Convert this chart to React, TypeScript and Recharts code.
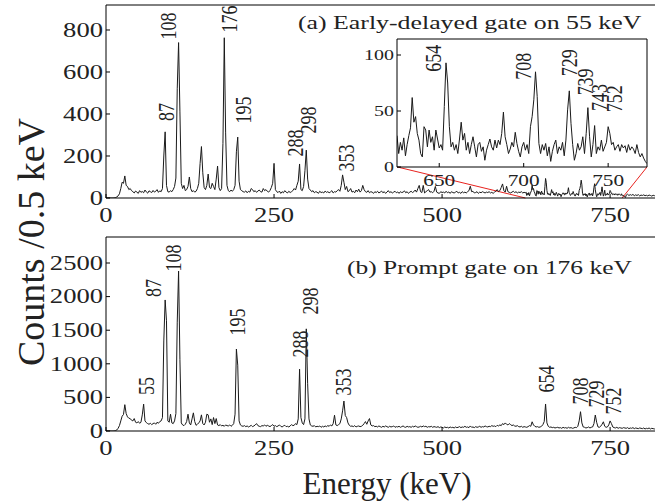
import React from 'react';
import { ComposedChart, Line, XAxis, YAxis, ReferenceLine, Scatter } from 'recharts';

const FONT = '"Liberation Serif", "Times New Roman", serif';
const INK = '#1a1a1a';
const SX = 1.33; // the figure's lettering is stretched sideways

// ---- tick labels ----
const xTicks = [0, 250, 500, 750];
const topYTicks = [0, 200, 400, 600, 800];
const bottomYTicks = [0, 500, 1000, 1500, 2000, 2500];
const insetXTicks = [650, 700, 750];
const insetYTicks = [0, 50, 100];

// ---- (a) early-delayed gate on 55 keV, counts per channel ----
// 0..624 keV in 2 keV steps
const topLow = [
  0, 0, 0, 0, 0, 0, 0, 2, 5, 10, 20, 45, 75, 70, 105, 60, 55, 40, 45, 35,
  30, 24, 33, 28, 22, 35, 27, 31, 25, 38, 29, 23, 34, 30, 26, 36, 28, 32, 40, 27,
  34, 30, 45, 200, 315, 60, 30, 28, 35, 30, 40, 55, 95, 520, 740, 410, 70, 45, 60, 35,
  40, 55, 100, 45, 30, 35, 28, 32, 45, 70, 165, 245, 120, 50, 40, 60, 114, 50, 45, 70,
  55, 40, 90, 152, 50, 35, 45, 260, 763, 310, 60, 35, 30, 38, 32, 40, 60, 220, 290, 80,
  40, 35, 30, 28, 34, 25, 32, 28, 45, 40, 30, 35, 27, 33, 38, 30, 28, 45, 35, 40,
  32, 28, 36, 50, 70, 165, 40, 30, 26, 33, 22, 30, 25, 35, 28, 24, 32, 26, 30, 35,
  45, 38, 60, 80, 162, 40, 35, 55, 130, 228, 90, 45, 38, 30, 35, 25, 30, 28, 22, 32,
  26, 28, 24, 33, 27, 30, 25, 29, 35, 24, 30, 28, 35, 40, 32, 60, 110, 75, 40, 55,
  30, 35, 45, 28, 32, 25, 38, 30, 42, 28, 35, 60, 40, 30, 27, 35, 25, 30, 28, 22,
  30, 26, 32, 24, 28, 33, 25, 30, 22, 28, 35, 26, 30, 24, 28, 32, 25, 29, 22, 30,
  26, 28, 34, 25, 30, 22, 28, 32, 26, 30, 38, 28, 45, 60, 30, 26, 60, 24, 30, 35,
  40, 28, 30, 25, 32, 55, 28, 24, 22, 30, 26, 28, 24, 32, 25, 29, 22, 30, 26, 24,
  28, 32, 24, 27, 22, 30, 25, 28, 24, 30, 35, 56, 30, 32, 24, 26, 30, 22, 28, 25,
  30, 27, 24, 28, 26, 30, 24, 27, 22, 28, 32, 40, 30, 35, 50, 67, 35, 28, 56, 30,
  27, 24, 28, 32, 26, 30, 24, 28, 26, 30, 24, 27, 25,
];
// 625..773 keV in 1 keV steps (the region blown up in the inset)
const topInset = [
  28, 12, 22, 15, 26, 10, 20, 28, 35, 62,
  40, 45, 30, 24, 12, 9, 36, 33, 18, 33,
  22, 27, 15, 33, 25, 17, 20, 15, 54, 93,
  75, 36, 18, 22, 15, 20, 12, 25, 40, 24,
  30, 15, 22, 12, 20, 27, 18, 9, 20, 22,
  14, 18, 6, 15, 20, 25, 18, 15, 24, 17,
  24, 20, 30, 49, 27, 20, 12, 16, 22, 18,
  31, 21, 14, 9, 18, 22, 15, 20, 12, 36,
  45, 60, 85, 63, 21, 12, 20, 15, 21, 10,
  18, 5, 14, 20, 24, 12, 18, 15, 22, 10,
  24, 51, 68, 39, 20, 6, 12, 21, 15, 18,
  27, 12, 30, 53, 27, 9, 20, 37, 12, 18,
  15, 24, 14, 18, 22, 36, 30, 20, 22, 15,
  18, 20, 14, 20, 17, 19, 13, 20, 15, 18,
  16, 12, 20, 13, 9, 12, 8, 5, 3,
];
// 774..854 keV in 2 keV steps
const topHigh = [
  14, 18, 12, 16, 13, 17, 11, 15, 12, 16, 10, 14, 12, 15, 11, 13, 10, 14, 12, 9,
  13, 11, 10, 12, 10, 11, 9, 12, 10, 11, 9, 10, 12, 9, 11, 10, 9, 11, 10, 9, 10,
];

// ---- (b) prompt gate on 176 keV, 0..854 keV in 2 keV steps ----
const bottomCounts = [
  0, 0, 0, 0, 0, 0, 0, 5, 15, 40, 80, 150, 220, 245, 392, 260, 210, 190, 185, 160,
  150, 185, 130, 120, 140, 115, 130, 240, 400, 150, 125, 110, 100, 115, 95, 110, 120, 100, 130, 115,
  140, 150, 200, 1340, 1950, 1640, 150, 130, 250, 120, 110, 150, 260, 1620, 2380, 1060, 120, 90, 80, 100,
  140, 250, 120, 90, 180, 270, 140, 85, 100, 120, 150, 240, 110, 90, 130, 250, 240, 130, 180, 95,
  200, 110, 185, 90, 80, 95, 75, 85, 70, 90, 80, 75, 90, 70, 85, 110, 250, 1220, 980, 150,
  90, 75, 70, 80, 65, 75, 60, 70, 85, 65, 75, 90, 110, 80, 70, 65, 80, 75, 90, 70,
  85, 75, 65, 80, 95, 70, 80, 65, 75, 90, 70, 60, 75, 85, 65, 70, 60, 75, 95, 80,
  85, 110, 95, 180, 920, 200, 120, 95, 180, 1520, 710, 180, 90, 75, 70, 80, 60, 70, 65, 75,
  55, 70, 60, 75, 65, 80, 70, 90, 75, 110, 235, 90, 80, 95, 110, 180, 300, 446, 230, 200,
  120, 85, 70, 75, 65, 80, 60, 70, 75, 65, 70, 85, 110, 140, 100, 150, 185, 90, 75, 80,
  65, 70, 60, 75, 65, 55, 70, 60, 75, 65, 55, 70, 60, 65, 75, 55, 65, 60, 70, 55,
  65, 75, 60, 55, 70, 60, 65, 55, 70, 60, 75, 65, 55, 60, 70, 60, 75, 65, 70, 55,
  65, 60, 70, 55, 65, 60, 55, 65, 50, 60, 55, 45, 60, 50, 55, 45, 60, 50, 55, 45,
  60, 50, 55, 65, 50, 60, 55, 70, 55, 60, 50, 75, 55, 60, 50, 65, 55, 60, 70, 55,
  65, 60, 75, 65, 60, 70, 65, 80, 70, 75, 65, 85, 75, 90, 80, 110, 95, 120, 100, 90,
  110, 95, 80, 90, 75, 70, 80, 65, 60, 70, 55, 65, 60, 55, 65, 80, 70, 137, 90, 70,
  60, 65, 55, 60, 70, 95, 140, 402, 120, 70, 55, 60, 50, 55, 45, 50, 55, 45, 50, 40,
  55, 45, 50, 40, 55, 45, 50, 40, 45, 55, 50, 70, 150, 287, 120, 60, 55, 45, 50, 60,
  45, 55, 60, 110, 238, 130, 60, 55, 70, 100, 137, 70, 55, 60, 90, 150, 110, 60, 50, 45,
  55, 40, 50, 45, 40, 50, 45, 40, 50, 35, 45, 40, 50, 35, 45, 40, 35, 45, 40, 35,
  45, 30, 40, 35, 45, 30, 40, 35, 30, 40, 35, 38, 32, 36, 30, 34, 38, 30, 35, 32,
  36, 30, 34, 32, 35, 30, 33, 31,
];

// ---- peak labels (text, energy, height where the label sits) ----
const topLabelNames = ['87', '108', '176', '195', '288', '298', '353'];
const topLabelE = [89, 92, 183, 204, 281, 301, 357];
const topLabelC = [410, 819, 852, 419, 262, 371, 190];

const insetLabelNames = ['654', '708', '729', '739', '743', '752'];
const insetLabelE = [646.5, 699.8, 726.8, 736.3, 744.8, 753.5];
const insetLabelC = [97, 90, 93, 76, 62, 61];

const bottomLabelNames = ['55', '87', '108', '195', '288', '298', '353', '654', '708', '729', '752'];
const bottomLabelE = [59.5, 70, 99.7, 195, 288.7, 303.6, 352.7, 654.8, 705.4, 729.2, 754.5];
const bottomLabelC = [670, 2128, 2574, 1622, 1295, 1935, 729, 774, 595, 551, 446];

const bins = (start: number, step: number, counts: number[]) =>
  counts.map((c, i) => ({ e: start + i * step, c }));

const topData = [...bins(0, 2, topLow), ...bins(625, 1, topInset), ...bins(774, 2, topHigh)];
const insetData = bins(625, 1, topInset);
const bottomData = bins(0, 2, bottomCounts);

const labels = (names: string[], es: number[], cs: number[]) =>
  names.map((t, i) => ({ t, e: es[i], c: cs[i] }));

const topLabels = labels(topLabelNames, topLabelE, topLabelC);
const insetLabels = labels(insetLabelNames, insetLabelE, insetLabelC);
const bottomLabels = labels(bottomLabelNames, bottomLabelE, bottomLabelC);

const PeakLabel = (props: any) => {
  const { cx, cy, payload } = props;
  return (
    <text
      transform={`translate(${cx},${cy}) scale(${SX},1) rotate(-90)`}
      textAnchor="middle"
      dominantBaseline="central"
      fontFamily={FONT}
      fontSize={18}
      fill="#222"
    >
      {payload.t}
    </text>
  );
};

const YTick = (props: any) => {
  const { x, y, payload, fs = 20 } = props;
  return (
    <g>
      <line x1={x} y1={y} x2={x + 4} y2={y} stroke="#000" />
      <text
        transform={`translate(${x - 3},${y}) scale(${SX},1)`}
        textAnchor="end"
        dominantBaseline="central"
        fontFamily={FONT}
        fontSize={fs}
        fill="#222"
      >
        {payload.value}
      </text>
    </g>
  );
};

const XTick = (props: any) => {
  const { x, y, payload, fs = 20, off = 17 } = props;
  return (
    <g>
      <line x1={x} y1={y} x2={x} y2={y - 4} stroke="#000" />
      <text
        transform={`translate(${x},${y + off}) scale(${SX},1)`}
        textAnchor="middle"
        dominantBaseline="central"
        fontFamily={FONT}
        fontSize={fs}
        fill="#222"
      >
        {payload.value}
      </text>
    </g>
  );
};

const TOP_MAX = 919;
const BOTTOM_MAX = 2887;
const INSET_MAX = 114.3;

export default function App() {
  return (
    <div style={{ position: 'absolute', left: 0, top: 0, width: 655, height: 503, overflow: 'hidden', background: '#fff' }}>
      {/* panel (a) */}
      <div style={{ position: 'absolute', left: 0, top: 0 }}>
        <ComposedChart width={680} height={240} data={topData} margin={{ top: 5, right: 0, bottom: 0, left: 46 }}>
          <XAxis
            dataKey="e"
            type="number"
            domain={[0, 854]}
            allowDataOverflow
            ticks={xTicks}
            height={42}
            tickSize={0}
            tickMargin={0}
            tickLine={false}
            axisLine={{ stroke: '#000' }}
            tick={<XTick />}
          />
          <YAxis
            type="number"
            domain={[0, TOP_MAX]}
            allowDataOverflow
            ticks={topYTicks}
            width={60}
            tickSize={0}
            tickMargin={0}
            tickLine={false}
            axisLine={{ stroke: '#000' }}
            tick={<YTick />}
          />
          <ReferenceLine y={TOP_MAX} stroke="#000" />
          <ReferenceLine segment={[{ x: 433, y: 148 }, { x: 624, y: 0 }]} stroke="#e8231f" />
          <ReferenceLine segment={[{ x: 805, y: 148 }, { x: 768, y: 0 }]} stroke="#e8231f" />
          <Line dataKey="c" stroke={INK} strokeWidth={1} dot={false} isAnimationActive={false} />
          <Scatter data={topLabels} dataKey="c" shape={<PeakLabel />} isAnimationActive={false} />
        </ComposedChart>
      </div>

      {/* inset background */}
      <div style={{ position: 'absolute', left: 397, top: 39, width: 250, height: 128, background: '#fff' }} />
      <div style={{ position: 'absolute', left: 337, top: 29 }}>
        <ComposedChart width={320} height={170} data={insetData} margin={{ top: 10, right: 10, bottom: 0, left: 0 }}>
          <XAxis
            dataKey="e"
            type="number"
            domain={[625, 773]}
            allowDataOverflow
            ticks={insetXTicks}
            height={32}
            tickSize={0}
            tickMargin={0}
            tickLine={false}
            axisLine={{ stroke: '#000' }}
            tick={<XTick fs={16} off={13} />}
          />
          <YAxis
            type="number"
            domain={[0, INSET_MAX]}
            allowDataOverflow
            ticks={insetYTicks}
            width={60}
            tickSize={0}
            tickMargin={0}
            tickLine={false}
            axisLine={{ stroke: '#000' }}
            tick={<YTick fs={15} />}
          />
          <ReferenceLine y={INSET_MAX} stroke="#000" />
          <ReferenceLine x={773} stroke="#000" />
          <Line dataKey="c" stroke={INK} strokeWidth={1} dot={false} isAnimationActive={false} />
          <Scatter data={insetLabels} dataKey="c" shape={<PeakLabel />} isAnimationActive={false} />
        </ComposedChart>
      </div>

      {/* panel (b) */}
      <div style={{ position: 'absolute', left: 0, top: 232 }}>
        <ComposedChart width={680} height={260} data={bottomData} margin={{ top: 5, right: 0, bottom: 0, left: 46 }}>
          <XAxis
            dataKey="e"
            type="number"
            domain={[0, 854]}
            allowDataOverflow
            ticks={xTicks}
            height={61}
            tickSize={0}
            tickMargin={0}
            tickLine={false}
            axisLine={{ stroke: '#000' }}
            tick={<XTick />}
          />
          <YAxis
            type="number"
            domain={[0, BOTTOM_MAX]}
            allowDataOverflow
            ticks={bottomYTicks}
            width={60}
            tickSize={0}
            tickMargin={0}
            tickLine={false}
            axisLine={{ stroke: '#000' }}
            tick={<YTick />}
          />
          <ReferenceLine y={BOTTOM_MAX} stroke="#000" />
          <Line dataKey="c" stroke={INK} strokeWidth={1} dot={false} isAnimationActive={false} />
          <Scatter data={bottomLabels} dataKey="c" shape={<PeakLabel />} isAnimationActive={false} />
        </ComposedChart>
      </div>

      {/* titles */}
      <svg width={655} height={503} style={{ position: 'absolute', left: 0, top: 0, pointerEvents: 'none' }}>
        <text transform={`translate(298,29) scale(1.36,1)`} fontFamily={FONT} fontSize={19} fill="#222">
          (a) Early-delayed gate on 55 keV
        </text>
        <text transform={`translate(347,274) scale(1.34,1)`} fontFamily={FONT} fontSize={19} fill="#222">
          (b) Prompt gate on 176 keV
        </text>
        <text x={387} y={494} textAnchor="middle" fontFamily={FONT} fontSize={31} fill="#222">
          Energy (keV)
        </text>
        <text
          transform="translate(31,242) rotate(-90)"
          textAnchor="middle"
          dominantBaseline="central"
          fontFamily={FONT}
          fontSize={38}
          fill="#222"
        >
          Counts /0.5 keV
        </text>
      </svg>
    </div>
  );
}
